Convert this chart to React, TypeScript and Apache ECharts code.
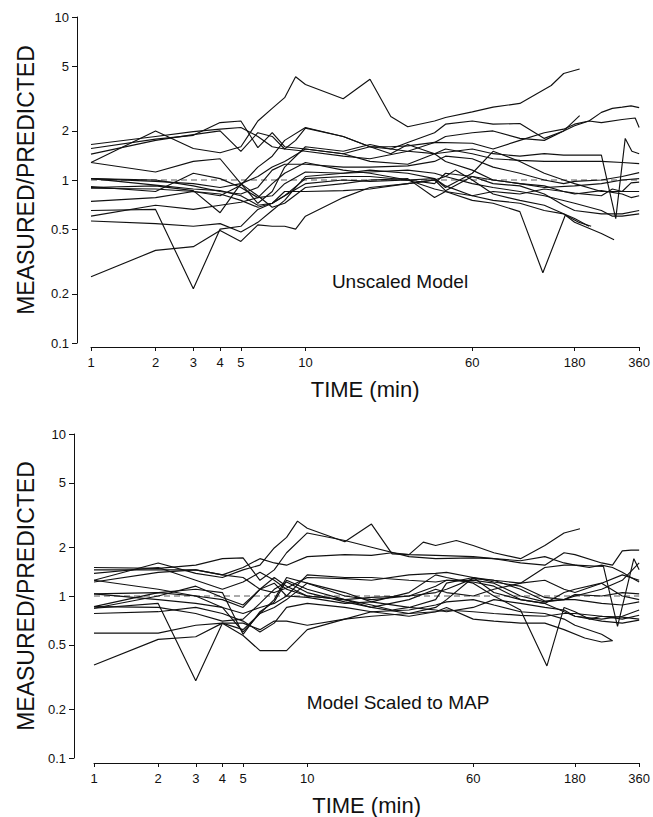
import React, { useEffect, useRef } from "react";
import * as echarts from "echarts";

// x tick labels (min) and y tick labels (ratio)
const TIME_TICKS = [1, 2, 3, 4, 5, 10, 60, 180, 360];
const RATIO_TICKS = [0.1, 0.2, 0.5, 1, 2, 5, 10];
const TIME_RANGE = [1, 360];
const RATIO_RANGE = [0.1, 10];
const REFERENCE_RATIO = 1;

// ---------- Unscaled model: [time (min), measured/predicted] ----------
const U01 = [[1,1.28],[2,2.0],[3,1.56],[4,1.47],[5,1.6],[6,2.3],[7,2.75],[8,3.2],[9,4.3],[10,3.85],[15,3.15],[20,4.15],[25,2.45],[30,2.12],[40,2.3],[45,2.42],[60,2.62],[75,2.8],[100,2.95],[140,3.8],[160,4.5],[190,4.8]];
const U02 = [[1,1.65],[2,1.85],[3,1.98],[4,2.05],[5,2.1],[6,1.85],[7,1.6],[8,1.55],[9,1.75],[10,2.08],[15,1.85],[20,1.6],[25,1.55],[30,1.7],[40,1.95],[45,2.2],[60,2.3],[75,2.2],[100,2.22],[130,1.8],[160,2.0],[190,2.48]];
const U03 = [[1,1.56],[2,1.78],[3,1.88],[4,2.25],[5,2.3],[6,1.58],[7,1.95],[8,1.6],[10,1.55],[15,1.45],[20,1.6],[25,1.6],[30,1.62],[40,1.7],[60,1.68],[75,1.55],[100,1.75],[130,1.95],[160,2.05],[180,2.2],[210,2.3],[240,2.6],[270,2.75],[300,2.8],[330,2.85],[360,2.78]];
const U04 = [[1,1.44],[2,1.75],[3,1.9],[4,2.0],[5,1.5],[6,1.95],[7,1.85],[8,1.55],[10,1.5],[15,1.4],[20,1.35],[30,1.5],[40,1.7],[45,1.85],[60,1.95],[75,2.0],[100,1.8],[130,1.75],[160,2.0],[180,2.15],[210,2.3],[240,2.25],[300,2.35],[345,2.4],[360,2.1]];
const U05 = [[1,1.28],[2,1.12],[3,1.3],[4,1.35],[5,0.95],[6,0.72],[7,0.85],[8,1.2],[10,1.6],[15,1.5],[20,1.65],[25,1.55],[30,1.5],[40,1.45],[60,1.55],[75,1.45],[100,1.4],[130,1.45],[160,1.42],[180,1.42],[240,1.42],[280,0.58],[310,1.8],[333,1.5],[360,1.45]];
const U06 = [[1,1.02],[2,0.98],[3,0.95],[4,0.9],[5,0.95],[6,1.05],[7,1.2],[8,1.3],[10,1.55],[15,1.45],[20,1.3],[30,1.25],[40,1.45],[45,1.55],[60,1.45],[75,1.35],[100,1.32],[130,1.3],[180,1.3],[240,1.3],[300,1.28],[360,1.26]];
const U07 = [[1,1.02],[2,1.0],[3,0.92],[4,0.85],[5,0.82],[6,0.9],[7,1.15],[8,1.25],[10,1.25],[15,1.2],[20,1.2],[30,1.22],[40,1.3],[45,1.4],[60,1.35],[75,1.2],[100,1.1],[130,1.0],[160,0.95],[180,0.98],[240,1.0],[300,1.05],[360,1.11]];
const U08 = [[1,0.91],[2,0.85],[3,1.1],[4,1.02],[5,0.9],[6,0.78],[7,0.8],[8,0.95],[10,1.12],[15,1.1],[20,1.15],[30,1.1],[40,1.02],[45,0.92],[60,0.8],[75,0.85],[100,0.82],[130,0.88],[160,0.85],[180,0.83],[240,0.8],[270,0.88],[300,0.85],[330,0.96],[360,0.97]];
const U09 = [[1,0.89],[2,0.88],[3,0.85],[4,0.8],[5,0.93],[6,1.2],[7,1.4],[8,1.75],[10,2.1],[15,1.85],[20,1.6],[25,1.45],[30,1.65],[40,1.45],[45,1.3],[60,1.15],[75,1.0],[100,0.95],[130,0.92],[160,0.85],[180,0.82],[240,0.86],[300,0.82],[330,0.78],[360,0.8]];
const U10 = [[1,0.74],[2,0.78],[3,0.85],[4,0.82],[5,0.75],[6,0.68],[7,0.72],[8,0.85],[10,0.85],[15,0.86],[20,0.88],[30,0.95],[40,1.0],[45,0.86],[60,1.05],[75,0.95],[100,0.92],[130,0.82],[160,0.7],[180,0.65],[240,0.62],[300,0.62],[360,0.65]];
const U11 = [[1,0.65],[2,0.66],[3,0.215],[4,0.5],[5,0.52],[6,0.66],[7,0.72],[8,0.8],[10,0.95],[15,1.0],[20,0.98],[30,1.0],[40,0.88],[45,0.85],[60,0.8],[75,0.75],[100,0.72],[130,0.65],[160,0.62],[180,0.58],[210,0.52]];
const U12 = [[1,0.6],[2,0.7],[3,0.66],[4,0.7],[5,0.73],[6,0.78],[7,0.95],[8,1.1],[10,1.28],[15,1.15],[20,1.1],[30,1.0],[40,0.95],[45,1.1],[60,1.05],[75,1.0],[100,0.95],[130,0.9],[180,0.92],[240,0.95],[300,1.0],[360,1.02]];
const U13 = [[1,0.56],[2,0.54],[3,0.52],[4,0.54],[5,0.48],[6,0.55],[7,0.65],[8,0.75],[9,0.9],[10,1.05],[15,1.1],[20,1.12],[30,1.15],[40,1.1],[45,1.05],[60,0.95],[75,0.9],[100,0.85],[130,0.8],[180,0.72],[240,0.65],[270,0.6],[300,0.6],[360,0.62]];
const U14 = [[1,0.255],[2,0.37],[3,0.39],[4,0.49],[5,0.42],[6,0.53],[7,0.52],[8,0.52],[9,0.5],[10,0.6],[15,0.78],[20,0.9],[30,0.95],[40,1.0],[45,1.05],[50,1.15],[60,1.0],[75,0.82],[100,0.75],[130,0.7],[160,0.62],[180,0.55],[240,0.47],[275,0.43]];
const U15 = [[1,0.9],[2,0.92],[3,0.86],[4,0.63],[5,0.95],[6,0.8],[7,0.68],[8,0.72],[10,0.9],[15,0.95],[20,1.0],[30,1.02],[40,0.78],[45,0.85],[60,0.75],[75,0.72],[100,0.64],[128,0.27],[163,0.61],[188,0.55],[215,0.52]];
const U16 = [[1,1.02],[2,0.93],[3,0.88],[4,0.86],[5,0.8],[6,0.7],[7,0.72],[8,0.8],[10,1.02],[15,1.05],[20,1.05],[30,1.0],[40,1.02],[45,0.9],[60,1.1],[75,1.5],[100,1.3],[130,1.1],[160,1.0],[180,0.95],[240,0.85],[300,0.85],[360,0.85]];

// ---------- Model scaled to MAP ----------
const S01 = [[1,1.25],[2,1.6],[3,1.38],[4,1.3],[5,1.45],[6,1.55],[7,1.98],[8,2.3],[9,2.9],[10,2.62],[15,2.16],[20,2.78],[25,1.82],[30,1.8],[35,2.15],[40,2.05],[50,2.2],[60,2.05],[75,1.85],[100,1.7],[130,2.05],[160,2.45],[190,2.6]];
const S02 = [[1,1.5],[2,1.48],[3,1.55],[4,1.7],[5,1.72],[6,1.25],[7,1.45],[8,1.85],[10,2.45],[15,2.2],[20,2.0],[30,1.75],[40,1.7],[60,1.72],[75,1.7],[100,1.6],[130,1.55],[160,1.85],[180,1.8],[240,1.6],[270,1.55],[300,1.9],[330,1.92],[360,1.92]];
const S03 = [[1,1.45],[2,1.45],[3,1.45],[4,1.35],[5,1.5],[6,1.7],[7,1.6],[8,1.55],[10,1.75],[15,1.8],[20,1.78],[25,1.85],[30,1.8],[40,1.78],[60,1.75],[75,1.7],[100,1.65],[130,1.75],[160,1.6],[180,1.55],[210,1.5],[240,1.55],[270,1.5],[300,1.4],[330,1.3],[360,1.22]];
const S04 = [[1,1.38],[2,1.5],[3,1.25],[4,1.1],[5,1.22],[6,1.4],[7,1.25],[8,1.1],[10,1.0],[15,0.95],[20,0.88],[25,0.82],[30,0.85],[40,0.95],[45,1.2],[60,1.3],[75,1.25],[100,1.2],[130,1.5],[160,1.55],[180,1.55],[245,1.52],[285,0.65],[340,1.7],[360,1.45]];
const S05 = [[1,1.22],[2,1.4],[3,1.45],[4,1.35],[5,1.3],[6,1.1],[7,1.05],[8,1.12],[10,1.3],[15,1.28],[20,1.25],[30,1.35],[40,1.38],[45,1.4],[60,1.3],[75,1.22],[100,1.15],[130,0.98],[160,0.95],[180,1.0],[240,1.1],[300,1.25],[360,1.6]];
const S06 = [[1,1.03],[2,1.05],[3,1.0],[4,0.95],[5,0.85],[6,1.1],[7,1.3],[8,1.15],[10,1.0],[15,0.95],[20,0.98],[30,1.0],[40,1.05],[45,1.1],[60,1.28],[75,1.25],[100,1.1],[130,0.93],[160,0.95],[180,1.02],[240,1.0],[300,1.05],[360,1.03]];
const S07 = [[1,1.03],[2,0.95],[3,0.9],[4,0.85],[5,0.6],[6,0.78],[7,0.95],[8,1.3],[10,1.2],[15,1.0],[20,0.95],[30,1.0],[40,1.15],[45,1.25],[60,1.25],[75,1.2],[100,1.0],[130,0.92],[160,0.95],[180,0.95],[240,0.9],[300,0.88],[360,0.92]];
const S08 = [[1,0.86],[2,1.05],[3,1.1],[4,1.05],[5,0.58],[6,0.8],[7,0.92],[8,1.25],[10,1.1],[15,0.95],[20,0.85],[30,0.78],[40,0.85],[45,0.95],[60,1.3],[75,1.05],[100,0.95],[130,0.9],[160,0.8],[180,0.75],[240,0.72],[300,0.75],[360,0.82]];
const S09 = [[1,0.84],[2,1.0],[3,1.15],[4,0.98],[5,0.88],[6,1.1],[7,1.2],[8,1.0],[10,0.98],[15,0.9],[20,0.92],[30,1.05],[40,1.35],[45,1.3],[60,1.2],[75,1.0],[100,0.82],[133,0.37],[160,0.85],[180,0.8],[210,0.72],[240,0.75],[300,0.72],[360,0.76]];
const S10 = [[1,0.84],[2,0.9],[3,0.3],[4,0.68],[5,0.62],[6,0.78],[7,0.85],[8,0.95],[10,1.2],[15,1.05],[20,0.92],[30,0.85],[40,0.82],[45,0.8],[60,0.85],[75,0.95],[100,0.9],[130,0.85],[160,0.82],[180,0.75],[240,0.7],[300,0.68],[360,0.71]];
const S11 = [[1,0.78],[2,0.8],[3,0.85],[4,0.78],[5,0.7],[6,0.6],[7,0.68],[8,0.85],[10,0.9],[15,0.85],[20,0.8],[30,0.82],[40,0.88],[45,0.92],[60,0.95],[75,0.88],[100,0.8],[130,0.78],[160,0.72],[180,0.66],[240,0.58],[270,0.53]];
const S12 = [[1,0.59],[2,0.59],[3,0.66],[4,0.68],[5,0.68],[6,0.62],[7,0.7],[8,0.7],[10,0.66],[15,0.72],[20,0.75],[30,0.78],[40,0.8],[45,0.82],[60,0.8],[75,0.78],[100,0.76],[130,0.75],[160,0.78],[180,0.78],[240,0.75],[300,0.74],[360,0.72]];
const S13 = [[1,0.375],[2,0.54],[3,0.56],[4,0.68],[5,0.57],[6,0.46],[8,0.46],[10,0.62],[15,0.72],[20,0.8],[30,0.75],[40,0.8],[45,0.85],[60,0.72],[75,0.7],[100,0.68],[130,0.68],[160,0.62],[200,0.55],[240,0.52],[270,0.53]];
const S14 = [[1,1.25],[2,1.1],[3,1.0],[4,0.85],[5,0.78],[6,0.85],[7,0.9],[8,1.0],[10,1.35],[15,1.3],[20,1.3],[30,1.25],[40,1.22],[45,1.25],[60,1.22],[75,1.15],[100,0.95],[130,0.9],[160,1.05],[180,1.1],[240,1.2],[300,1.35],[360,1.25]];
const S15 = [[1,0.86],[2,0.85],[3,0.78],[4,0.7],[5,0.72],[6,0.9],[7,1.1],[8,1.22],[10,1.05],[15,0.92],[20,0.85],[30,0.95],[40,1.1],[45,1.05],[60,1.0],[75,1.1],[100,1.2],[130,1.25],[160,1.1],[180,1.05],[240,1.2],[300,1.0],[360,0.95]];

const UNSCALED = [U01, U02, U03, U04, U05, U06, U07, U08, U09, U10, U11, U12, U13, U14, U15, U16];
const SCALED = [S01, S02, S03, S04, S05, S06, S07, S08, S09, S10, S11, S12, S13, S14, S15];

const PANEL_TITLES = ["Unscaled Model", "Model Scaled to MAP"];
const X_NAME = "TIME (min)";
const Y_NAME = "MEASURED/PREDICTED";

const FONT = "'Liberation Sans', Arial, Helvetica, sans-serif";
const lg = (v: number) => Math.log10(v);
const fmt = (v: number) => String(Number(Math.pow(10, v).toPrecision(2)));

export default function App() {
  const ref = useRef<HTMLDivElement>(null);
  useEffect(() => {
    if (!ref.current) return;
    const chart = echarts.init(ref.current, undefined, { renderer: "svg" });

    const grids = [
      { left: 91, right: 12, top: 17, height: 326 },
      { left: 94, right: 10, top: 434, height: 324 },
    ];
    const yOffsets = [14, 20];
    const xOffsets = [4, 5];
    const yNameGaps = [40, 37];

    const xAxes = grids.map((_, i) => ({
      type: "value",
      gridIndex: i,
      position: "bottom",
      min: lg(TIME_RANGE[0]),
      max: lg(TIME_RANGE[1]),
      offset: xOffsets[i],
      name: X_NAME,
      nameLocation: "middle",
      nameGap: 31,
      nameTextStyle: { fontFamily: FONT, fontSize: 22, color: "#111" },
      axisLine: { show: true, onZero: false, lineStyle: { color: "#111", width: 1 } },
      axisTick: { show: true, length: 4, customValues: TIME_TICKS.map(lg), lineStyle: { color: "#111" } },
      axisLabel: {
        show: true,
        customValues: TIME_TICKS.map(lg),
        formatter: (v: number) => String(Math.round(Math.pow(10, v))),
        fontFamily: FONT,
        fontSize: 13,
        color: "#111",
        margin: 9,
      },
      splitLine: { show: false },
    }));

    const yAxes = grids.map((_, i) => ({
      type: "value",
      gridIndex: i,
      position: "left",
      min: lg(RATIO_RANGE[0]),
      max: lg(RATIO_RANGE[1]),
      offset: yOffsets[i],
      name: Y_NAME,
      nameLocation: "middle",
      nameGap: yNameGaps[i],
      nameRotate: 90,
      nameTextStyle: { fontFamily: FONT, fontSize: 23, color: "#111" },
      axisLine: { show: true, onZero: false, lineStyle: { color: "#111", width: 1 } },
      axisTick: { show: true, length: 5, customValues: RATIO_TICKS.map(lg), lineStyle: { color: "#111" } },
      axisLabel: {
        show: true,
        customValues: RATIO_TICKS.map(lg),
        formatter: fmt,
        fontFamily: FONT,
        fontSize: 13,
        color: "#111",
        margin: 8,
      },
      splitLine: { show: false },
    }));

    const mkSeries = (lines: number[][][], idx: number) =>
      lines.map((line, k) => ({
        type: "line",
        name: `${idx}-${k}`,
        xAxisIndex: idx,
        yAxisIndex: idx,
        data: line.map(([t, v]) => [lg(t), lg(v)]),
        symbol: "none",
        showSymbol: false,
        silent: true,
        lineStyle: { color: "#111", width: 1.15 },
      }));

    const refSeries = [0, 1].map((idx) => ({
      type: "line",
      xAxisIndex: idx,
      yAxisIndex: idx,
      data: [[lg(TIME_RANGE[0]), lg(REFERENCE_RATIO)], [lg(TIME_RANGE[1]), lg(REFERENCE_RATIO)]],
      symbol: "none",
      silent: true,
      lineStyle: { color: "#444", width: 0.9, type: [6, 4] },
      z: 1,
    }));

    chart.setOption({
      animation: false,
      backgroundColor: "#fff",
      grid: grids,
      xAxis: xAxes,
      yAxis: yAxes,
      series: [...refSeries, ...mkSeries(UNSCALED, 0), ...mkSeries(SCALED, 1)],
      graphic: [
        {
          type: "text",
          x: 400,
          y: 281,
          style: { text: PANEL_TITLES[0], fontFamily: FONT, fontSize: 19, fill: "#111", textAlign: "center", textVerticalAlign: "middle" },
        },
        {
          type: "text",
          x: 398,
          y: 702,
          style: { text: PANEL_TITLES[1], fontFamily: FONT, fontSize: 19, fill: "#111", textAlign: "center", textVerticalAlign: "middle" },
        },
      ],
    });
    return () => chart.dispose();
  }, []);

  return (
    <div
      ref={ref}
      style={{ position: "fixed", left: 0, top: 0, width: 653, height: 817, background: "#fff" }}
    />
  );
}
